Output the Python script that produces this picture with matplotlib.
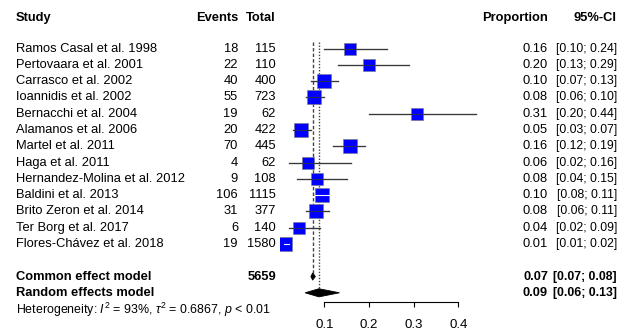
import numpy as np
import matplotlib
matplotlib.use("Agg")
import matplotlib.pyplot as plt
from matplotlib import transforms
from matplotlib.patches import Polygon

plt.rcParams['font.family'] = ['Liberation Sans', 'DejaVu Sans']
plt.rcParams['mathtext.fontset'] = 'custom'
plt.rcParams['mathtext.rm'] = 'Liberation Sans'
plt.rcParams['mathtext.it'] = 'Liberation Sans:italic'

# data
studies = ["Ramos Casal et al. 1998", "Pertovaara et al. 2001", "Carrasco et al. 2002",
           "Ioannidis et al. 2002", "Bernacchi et al. 2004", "Alamanos et al. 2006",
           "Martel et al. 2011", "Haga et al. 2011", "Hernandez-Molina et al. 2012",
           "Baldini et al. 2013", "Brito Zeron et al. 2014", "Ter Borg et al. 2017",
           "Flores-Chávez et al. 2018"]
events = [18, 22, 40, 55, 19, 20, 70, 4, 9, 106, 31, 6, 19]
totals = [115, 110, 400, 723, 62, 422, 445, 62, 108, 1115, 377, 140, 1580]
ci_lo = [0.10, 0.13, 0.07, 0.06, 0.20, 0.03, 0.12, 0.02, 0.04, 0.08, 0.06, 0.02, 0.01]
ci_hi = [0.24, 0.29, 0.13, 0.10, 0.44, 0.07, 0.19, 0.16, 0.15, 0.11, 0.11, 0.09, 0.02]

common_est, common_lo, common_hi = 0.074, 0.07, 0.08
random_est, random_lo, random_hi = 0.088, 0.057, 0.134
tau2 = 0.6867
xticks = [0.1, 0.2, 0.3, 0.4]

events = np.array(events)
totals = np.array(totals)
prop = events / totals
n = len(studies)

# random effects weights (logit scale) -> box side
v = 1.0 / events + 1.0 / (totals - events)
w = 1.0 / (v + tau2)
box_px = 11.2 * np.sqrt(w)

W, H = 634, 334
fig = plt.figure(figsize=(W / 100, H / 100), dpi=100)
px_per_unit = 447.0
x0_px = 279.6
xmax = 0.45
row_px = 16.28
row0_px = 48.6
axis_px = 302
ax = fig.add_axes([x0_px / W, (H - axis_px) / H, xmax * px_per_unit / W, axis_px / H])
ax.set_xlim(0, xmax)
ax.set_ylim((axis_px - row0_px) / row_px, -row0_px / row_px)
ax.patch.set_alpha(0)

rows = np.arange(n)
row_common = n + 1
row_random = n + 2

# reference lines
ax.plot([common_est, common_est], [-0.4, row_common], color='#444444', lw=1,
        ls=(0, (2.5, 1.5)), zorder=1)
ax.plot([random_est, random_est], [-0.4, row_random], color='#444444', lw=1,
        ls=(0, (1, 1.2)), zorder=1)

for i in range(n):
    inside = (ci_hi[i] - ci_lo[i]) * px_per_unit < box_px[i]
    ax.plot([ci_lo[i], ci_hi[i]], [rows[i], rows[i]], color='#555555', lw=1, zorder=2)
    ax.plot(prop[i], rows[i], marker='s', ms=box_px[i] * 0.72, mfc='#0000ff',
            mec='#7a7a9a', mew=0.5, zorder=3)
    ax.plot([ci_lo[i], ci_hi[i]], [rows[i], rows[i]],
            color='white' if inside else '#333333', lw=0.8 if inside else 0.6, zorder=4)

# diamonds
for est, lo, hi, r, h in [(common_est, common_lo, common_hi, row_common, 0.22),
                          (random_est, random_lo, random_hi, row_random, 0.25)]:
    ax.add_patch(Polygon([(lo, r), (est, r - h), (hi, r), (est, r + h)],
                         closed=True, fc='black', ec='black', lw=0.6, zorder=3))

for s in ['left', 'right', 'top']:
    ax.spines[s].set_visible(False)
ax.spines['bottom'].set_bounds(xticks[0], xticks[-1])
ax.spines['bottom'].set_linewidth(0.8)
ax.set_yticks([])
ax.set_xticks(xticks)
ax.set_xticklabels([f"{t:.1f}" for t in xticks])
ax.tick_params(axis='x', direction='out', length=3.6, width=0.8, pad=9, labelsize=9.5)

# text columns
tr = transforms.blended_transform_factory(fig.transFigure, ax.transData)
fs = 9.3
fs_ci = 8.8
name_x, ev_x, tot_x, prop_x, ci_x = 16 / W, 238 / W, 276 / W, 548 / W, 617 / W
hdr = -1.9


def put(x, y, s, ha='right', size=fs, bold=False):
    ax.text(x, y, s, transform=tr, ha=ha, va='center', fontsize=size,
            fontweight='bold' if bold else 'normal', clip_on=False)


put(name_x, hdr, "Study", ha='left', bold=True)
put(ev_x, hdr, "Events", bold=True)
put(tot_x, hdr, "Total", bold=True)
put(prop_x, hdr, "Proportion", bold=True)
put(ci_x, hdr, "95%-CI", bold=True)

for i in range(n):
    y = rows[i]
    put(name_x, y, studies[i], ha='left')
    put(ev_x, y, str(events[i]))
    put(tot_x, y, str(totals[i]))
    put(prop_x, y, f"{prop[i]:.2f}")
    put(ci_x, y, f"[{ci_lo[i]:.2f}; {ci_hi[i]:.2f}]", size=fs_ci)

put(name_x, row_common, "Common effect model", ha='left', bold=True)
put(tot_x, row_common, str(totals.sum()), bold=True)
put(prop_x, row_common, f"{common_est:.2f}", bold=True)
put(ci_x, row_common, f"[{common_lo:.2f}; {common_hi:.2f}]", size=fs_ci, bold=True)

put(name_x, row_random, "Random effects model", ha='left', bold=True)
put(prop_x, row_random, f"{random_est:.2f}", bold=True)
put(ci_x, row_random, f"[{random_lo:.2f}; {random_hi:.2f}]", size=fs_ci, bold=True)

put(name_x, row_random + 1.04,
    r"Heterogeneity: $I^2$ = 93%, $\tau^2$ = " + f"{tau2:.4f}" + r", $p$ < 0.01",
    ha='left', size=8.9)

fig.savefig("out.png", dpi=100)
